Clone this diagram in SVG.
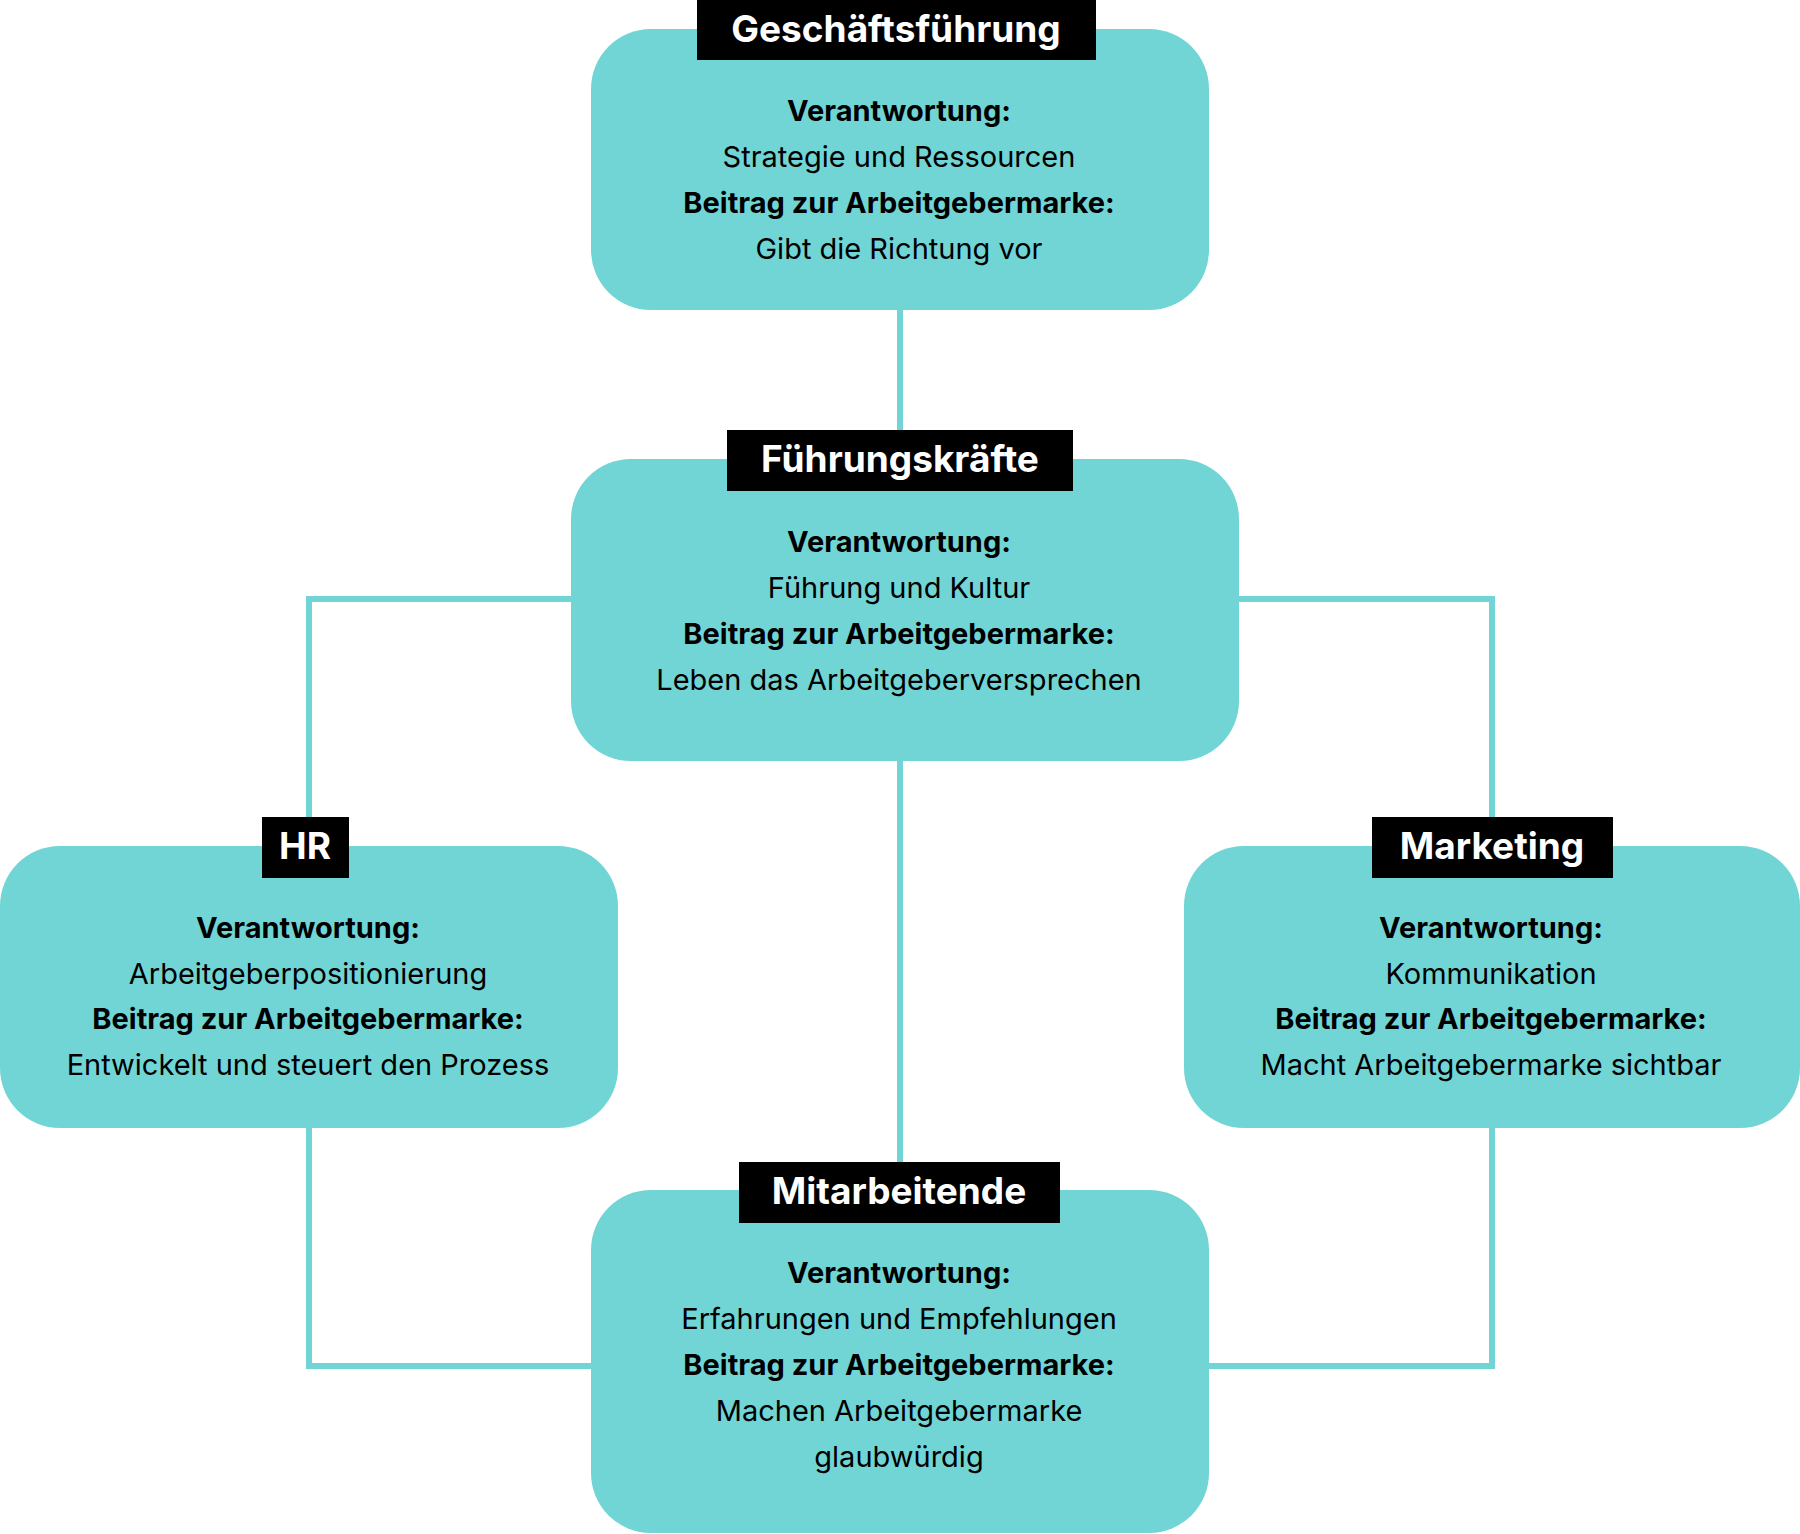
<svg xmlns="http://www.w3.org/2000/svg" width="1800" height="1534" viewBox="0 0 1800 1534">
<style>
.box{fill:#71d5d5}
.lab{fill:#000}
.lt{font-family:Inter,"Noto Sans",sans-serif;font-weight:700;font-size:37px;fill:#fff;text-anchor:middle}
.b{font-family:Inter,"Noto Sans",sans-serif;font-weight:700;font-size:29px;fill:#000;text-anchor:middle}
.r{font-family:Inter,"Noto Sans",sans-serif;font-weight:400;font-size:29px;fill:#000;text-anchor:middle}
.c{fill:none;stroke:#71d5d5;stroke-width:6}
</style>
<rect width="1800" height="1534" fill="#fff"/>
<g id="connectors">
<path class="c" d="M900 310V430"/>
<path class="c" d="M571 599H309V817"/>
<path class="c" d="M1239 599H1492V817"/>
<path class="c" d="M900 761V1162"/>
<path class="c" d="M309 1128V1366H591"/>
<path class="c" d="M1492 1128V1366H1209"/>
</g>
<g id="geschaeftsfuehrung">
<rect class="box" x="591" y="29" width="618" height="281" rx="60"/>
<rect class="lab" x="697" y="0" width="399" height="60"/>
<text class="lt" x="896" y="42">Geschäftsführung</text>
<text class="b" x="899" y="121">Verantwortung:</text>
<text class="r" x="899" y="167">Strategie und Ressourcen</text>
<text class="b" x="899" y="213">Beitrag zur Arbeitgebermarke:</text>
<text class="r" x="899" y="259">Gibt die Richtung vor</text>
</g>
<g id="fuehrungskraefte">
<rect class="box" x="571" y="459" width="668" height="302" rx="60"/>
<rect class="lab" x="727" y="430" width="346" height="61"/>
<text class="lt" x="900" y="472">Führungskräfte</text>
<text class="b" x="899" y="552">Verantwortung:</text>
<text class="r" x="899" y="598">Führung und Kultur</text>
<text class="b" x="899" y="644">Beitrag zur Arbeitgebermarke:</text>
<text class="r" x="899" y="690">Leben das Arbeitgeberversprechen</text>
</g>
<g id="hr">
<rect class="box" x="0" y="846" width="618" height="282" rx="60"/>
<rect class="lab" x="262" y="817" width="87" height="61"/>
<text class="lt" x="305" y="859">HR</text>
<text class="b" x="308" y="938">Verantwortung:</text>
<text class="r" x="308" y="984">Arbeitgeberpositionierung</text>
<text class="b" x="308" y="1029">Beitrag zur Arbeitgebermarke:</text>
<text class="r" x="308" y="1075">Entwickelt und steuert den Prozess</text>
</g>
<g id="marketing">
<rect class="box" x="1184" y="846" width="616" height="282" rx="60"/>
<rect class="lab" x="1372" y="817" width="241" height="61"/>
<text class="lt" x="1492" y="859">Marketing</text>
<text class="b" x="1491" y="938">Verantwortung:</text>
<text class="r" x="1491" y="984">Kommunikation</text>
<text class="b" x="1491" y="1029">Beitrag zur Arbeitgebermarke:</text>
<text class="r" x="1491" y="1075">Macht Arbeitgebermarke sichtbar</text>
</g>
<g id="mitarbeitende">
<rect class="box" x="591" y="1190" width="618" height="343" rx="60"/>
<rect class="lab" x="739" y="1162" width="321" height="61"/>
<text class="lt" x="899" y="1204">Mitarbeitende</text>
<text class="b" x="899" y="1283">Verantwortung:</text>
<text class="r" x="899" y="1329">Erfahrungen und Empfehlungen</text>
<text class="b" x="899" y="1375">Beitrag zur Arbeitgebermarke:</text>
<text class="r" x="899" y="1421">Machen Arbeitgebermarke</text>
<text class="r" x="899" y="1467">glaubwürdig</text>
</g>
</svg>
